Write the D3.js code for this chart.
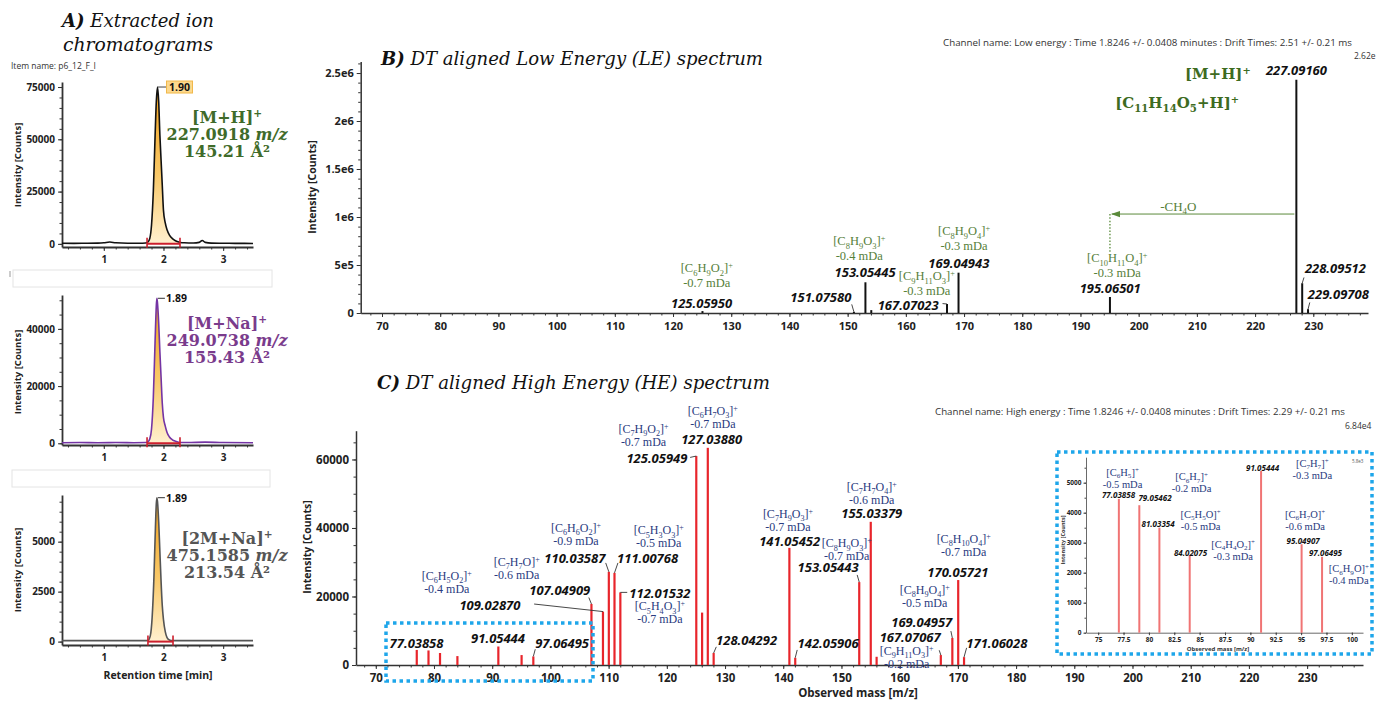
<!DOCTYPE html>
<html><head><meta charset="utf-8">
<script src="https://cdn.jsdelivr.net/npm/d3@7"></script>
<style>body{margin:0;background:#fff;}svg{display:block;}</style>
</head><body>
<svg id="c" width="1376" height="701"></svg>
<script>
// ================= DATA =================
// Panel A: extracted ion chromatograms (retention time [min], intensity [counts])
const rtMH  = [0.30,0.50,0.70,0.90,1.00,1.10,1.20,1.40,1.60,1.70,1.74,1.77,1.80,1.83,1.86,1.88,1.90,1.92,1.94,1.96,1.98,2.00,2.03,2.06,2.10,2.15,2.20,2.27,2.35,2.50,2.60,2.65,2.70,2.80,3.00,3.20,3.50];
const intMH = [300,250,300,350,500,900,500,300,300,400,900,2500,9000,25000,52000,68000,75000,68000,52000,40000,28000,16000,10000,6700,4200,2500,1500,800,500,400,700,1600,700,350,300,250,200];
const rtNa  = [0.30,0.60,0.90,1.20,1.50,1.70,1.74,1.77,1.80,1.83,1.86,1.88,1.89,1.90,1.92,1.94,1.96,1.98,2.00,2.03,2.06,2.10,2.15,2.20,2.27,2.40,2.70,3.00,3.50];
const intNa = [200,250,200,250,200,250,500,1500,5000,16000,36000,48000,50700,49000,42000,32000,23000,14000,9000,6000,3800,2200,1200,700,300,250,400,250,200];
const rt2M  = [0.30,0.70,1.10,1.50,1.70,1.74,1.78,1.81,1.84,1.86,1.88,1.89,1.90,1.92,1.94,1.96,1.98,2.00,2.03,2.06,2.10,2.15,2.30,2.70,3.10,3.50];
const int2M = [50,50,50,50,50,60,300,1200,3200,5200,6900,7200,7000,6000,4500,3000,1800,1100,500,200,80,50,50,50,50,50];
const rtTicks = [1,2,3];
const mhYTicks = [0,25000,50000,75000];
const naYTicks = [0,20000,40000];
const m2YTicks = [0,2500,5000];

// Panel B: low energy spectrum
const leMz  = [125.05950,151.07580,153.05445,154.06,167.07023,169.04943,195.06501,227.09160,228.09512,229.09708];
const leInt = [20000,12000,320000,30000,94000,420000,167000,2430000,310000,40000];
const leYTicks = [0,5e5,1e6,1.5e6,2e6,2.5e6];
const leYTickLabels = ['0','5e5','1e6','1.5e6','2e6','2.5e6'];
const mzTicks = [70,80,90,100,110,120,130,140,150,160,170,180,190,200,210,220,230];

// Panel C: high energy spectrum
const heMz  = [77.03858,79.05462,81.03354,84.02075,91.05444,95.04907,97.06495,107.04909,109.02870,110.03587,111.00768,112.01532,125.05949,126.06,127.03880,128.04292,141.05452,142.05906,153.05443,155.03379,156.04,167.07067,169.04957,170.05721,171.06028];
const heInt = [4400,4250,3500,2600,5400,2900,2500,17800,15600,27200,26900,21200,61000,15300,63400,3500,34200,2100,24200,41800,2400,2900,7900,24800,2300];
const heYTicks = [0,20000,40000,60000];

// Panel C inset (zoom 75–100 m/z)
const inMz  = [77.03858,79.05462,81.03354,84.02075,91.05444,95.04907,97.06495];
const inInt = [4460,4250,3500,2590,5390,2950,2530];
const inXTicks = [75,77.5,80,82.5,85,87.5,90,92.5,95,97.5,100];
const inYTicks = [0,1000,2000,3000,4000,5000];

// ----- annotation texts (label, position in data units) -----
const leNumLabels = [["125.05950",124.9,104000],["151.07580",145.4,167000],["153.05445",153.0,427000],["167.07023",160.4,83000],["169.04943",169.1,521000],["195.06501",195.1,260000],["228.09512",233.8,469000],["229.09708",234.3,198000],["227.09160",227.1,2530000]];
const leFormulas = [["[C_{6}H_{9}O_{2}]^{+}","-0.7 mDa",125.8,455000],["[C_{8}H_{9}O_{3}]^{+}","-0.4 mDa",152.0,736000],["[C_{9}H_{11}O_{3}]^{+}","-0.3 mDa",163.6,372000],["[C_{8}H_{9}O_{4}]^{+}","-0.3 mDa",170.0,840000],["[C_{10}H_{11}O_{4}]^{+}","-0.3 mDa",196.3,559000]];
const leLeaders = [[150.7,90000,151.07580],[166.3,98000,167.07023],[228.4,370000,228.09512],[229.4,110000,229.09708]];

const heNumLabels = [["77.03858",77.0,6400],["91.05444",91.0,7900],["97.06495",102.0,6400],["107.04909",101.6,21900],["109.02870",89.6,17500],["110.03587",104.2,31200],["111.00768",116.7,31200],["112.01532",118.8,21000],["125.05949",118.3,60400],["127.03880",127.7,66000],["128.04292",133.7,7300],["141.05452",141.1,36200],["142.05906",147.7,6400],["153.05443",147.7,28600],["155.03379",155.2,44400],["167.07067",161.8,8000],["169.04957",163.8,12600],["170.05721",170.0,27200],["171.06028",176.7,6400]];
const heFormulas = [["[C_{6}H_{5}O_{2}]^{+}","-0.4 mDa",82.2,25600],["[C_{7}H_{7}O]^{+}","-0.6 mDa",94.2,29700],["[C_{6}H_{6}O_{2}]^{+}","-0.9 mDa",104.4,39600],["[C_{5}H_{3}O_{3}]^{+}","-0.5 mDa",118.6,39000],["[C_{5}H_{4}O_{3}]^{+}","-0.7 mDa",118.8,16800],["[C_{7}H_{9}O_{2}]^{+}","-0.7 mDa",116.0,68500],["[C_{6}H_{7}O_{3}]^{+}","-0.7 mDa",127.9,73800],["[C_{7}H_{9}O_{3}]^{+}","-0.7 mDa",140.8,43700],["[C_{8}H_{9}O_{3}]^{+}","-0.7 mDa",150.9,35200],["[C_{7}H_{7}O_{4}]^{+}","-0.6 mDa",155.2,51600],["[C_{8}H_{10}O_{4}]^{+}","-0.7 mDa",171.0,36400],["[C_{8}H_{9}O_{4}]^{+}","-0.5 mDa",164.3,21600],["[C_{9}H_{11}O_{3}]^{+}","-0.2 mDa",161.2,3700]];
const heLeaders = [[97.2,17800,109.02870],[106.6,19700,107.04909],[109.5,29800,110.03587],[111.6,29800,111.00768],[113.2,21200,112.01532],[124.0,60600,125.05949],[97.4,4600,97.06495],[128.5,5300,128.04292],[142.4,4400,142.05906],[152.7,26300,153.05443],[166.8,4300,167.07067],[168.8,9900,169.04957],[171.5,5000,171.06028]];

const inNumLabels = [["77.03858",77.0,4590],["79.05462",80.6,4490],["81.03354",80.9,3620],["84.02075",84.1,2660],["91.05444",91.2,5490],["95.04907",95.2,3060],["97.06495",97.4,2660]];
const inFormulas = [["[C_{6}H_{5}]^{+}","-0.5 mDa",77.4,5340],["[C_{6}H_{7}]^{+}","-0.2 mDa",84.2,5180],["[C_{5}H_{5}O]^{+}","-0.5 mDa",85.1,3940],["[C_{4}H_{4}O_{2}]^{+}","-0.3 mDa",88.3,2940],["[C_{7}H_{7}]^{+}","-0.3 mDa",96.1,5640],["[C_{6}H_{7}O]^{+}","-0.6 mDa",95.4,3940],["[C_{6}H_{9}O]^{+}","-0.4 mDa",99.7,2110]];

// ================= DRAWING =================
const SANS = "'Open Sans','Noto Sans',sans-serif";
const TIMES = "'Liberation Serif','Times New Roman',serif";
const GEO = "'DejaVu Serif',Georgia,serif";
const svg = d3.select('#c');
svg.append('rect').attr('width',1376).attr('height',701).attr('fill','#fff');
const defs = svg.append('defs');
const grad = defs.append('linearGradient').attr('id','gradA').attr('x1',0).attr('y1',0).attr('x2',0).attr('y2',1);
grad.append('stop').attr('offset','0%').attr('stop-color','#f3a21c');
grad.append('stop').attr('offset','55%').attr('stop-color','#f9c867');
grad.append('stop').attr('offset','100%').attr('stop-color','#fff0cf');
defs.append('marker').attr('id','arrG').attr('viewBox','0 0 10 10').attr('refX',9).attr('refY',5)
  .attr('markerWidth',9).attr('markerHeight',9).attr('markerUnits','userSpaceOnUse').attr('orient','auto')
  .append('path').attr('d','M0,1.5 L10,5 L0,8.5 Z').attr('fill','#5a8a3a');

function rich(sel, str, fs) {
  const re = /(_|\^|\*)\{([^}]*)\}/g;
  let m, last = 0, cur = 0; const segs = [];
  while ((m = re.exec(str))) {
    if (m.index > last) segs.push({t: str.slice(last, m.index), k: ''});
    segs.push({t: m[2], k: m[1]}); last = re.lastIndex;
  }
  if (last < str.length) segs.push({t: str.slice(last), k: ''});
  segs.forEach(s => {
    let off = 0, size = fs;
    if (s.k === '_') { off = 0.26*fs; size = 0.68*fs; }
    if (s.k === '^') { off = -0.36*fs; size = 0.66*fs; }
    const ts = sel.append('tspan').text(s.t).attr('font-size', size).attr('dy', off - cur);
    if (s.k === '*') ts.attr('font-style','italic');
    cur = off;
  });
  return sel;
}
function styleAxis(g, fs, col, sw) {
  g.select('.domain').attr('stroke', col).attr('stroke-width', sw);
  g.selectAll('.tick line').attr('stroke', col).attr('stroke-width', 1);
  g.selectAll('.tick text').attr('font-family', SANS).attr('font-weight', 700).attr('font-size', fs).attr('fill', '#222');
}
function axesXY(x, y, o) {
  const y0 = y.range()[0], x0 = x.range()[0];
  const gxm = svg.append('g').attr('transform', `translate(0,${y0})`)
    .call(d3.axisBottom(x).tickValues(o.xMinor).tickSize(o.minLen).tickSizeOuter(0).tickFormat(''));
  gxm.select('.domain').remove(); gxm.selectAll('line').attr('stroke', o.col);
  const gym = svg.append('g').attr('transform', `translate(${x0},0)`)
    .call(d3.axisLeft(y).tickValues(o.yMinor).tickSize(o.minLen).tickSizeOuter(0).tickFormat(''));
  gym.select('.domain').remove(); gym.selectAll('line').attr('stroke', o.col);
  const gx = svg.append('g').attr('transform', `translate(0,${y0})`)
    .call(d3.axisBottom(x).tickValues(o.xTicks).tickSize(o.majLen).tickSizeOuter(0).tickPadding(o.padX).tickFormat(o.xFmt));
  styleAxis(gx, o.fs, o.col, o.sw);
  const gy = svg.append('g').attr('transform', `translate(${x0},0)`)
    .call(d3.axisLeft(y).tickValues(o.yTicks).tickSize(o.majLen).tickSizeOuter(0).tickPadding(o.padY).tickFormat(o.yFmt));
  styleAxis(gy, o.fs, o.col, o.sw);
}
function range(a, b, s) { const r = []; for (let v = a; v <= b + 1e-9; v += s) r.push(+v.toFixed(6)); return r; }
function yTitle(x, y, txt, fs) {
  svg.append('text').attr('transform', `translate(${x},${y}) rotate(-90)`).attr('text-anchor','middle')
    .attr('font-family', SANS).attr('font-weight', 700).attr('font-size', fs).attr('fill','#222').text(txt);
}

// ---------- Panel A ----------
const tA1 = svg.append('text').attr('x',138).attr('y',27).attr('text-anchor','middle')
  .attr('font-family',GEO).attr('font-style','italic').attr('font-size',18).attr('fill','#111')
  .attr('textLength',152).attr('lengthAdjust','spacingAndGlyphs');
tA1.append('tspan').attr('font-weight',700).text('A)'); tA1.append('tspan').text(' Extracted ion');
svg.append('text').attr('x',138).attr('y',51).attr('text-anchor','middle')
  .attr('font-family',GEO).attr('font-style','italic').attr('font-size',18).attr('fill','#111')
  .attr('textLength',150).attr('lengthAdjust','spacingAndGlyphs').text('chromatograms');
svg.append('text').attr('x',11).attr('y',69).attr('font-family',SANS).attr('font-size',8.5).attr('fill','#333').text('Item name: p6_12_F_I');
svg.append('rect').attr('x',13).attr('y',270).attr('width',259).attr('height',17).attr('fill','none').attr('stroke','#e4e4e4');
svg.append('rect').attr('x',12).attr('y',470).attr('width',258).attr('height',17).attr('fill','none').attr('stroke','#e4e4e4');
svg.append('line').attr('x1',10).attr('x2',10).attr('y1',271).attr('y2',277).attr('stroke','#999');

const xA = d3.scaleLinear([0.3, 3.5], [62, 253]);
const chroms = [
  {rt: rtMH, iv: intMH, yDom: [-1500, 77400], yRange: [247, 82], yTicks: mhYTicks, yMinor: range(0,75000,5000), col: '#111', integ: [1.725, 2.277], peak: [1.90, 75000], label: '1.90', box: true,
   txt: ['[M+H]^{+}', '227.0918 *{m/z}', '145.21 Å²'], tcol: '#3f6b2a', ty: 117, ytY: 165},
  {rt: rtNa, iv: intNa, yDom: [-600, 51850], yRange: [445, 295], yTicks: naYTicks, yMinor: range(0,50000,5000), col: '#7434a4', integ: [1.725, 2.277], peak: [1.89, 50700], label: '1.89', box: false,
   txt: ['[M+Na]^{+}', '249.0738 *{m/z}', '155.43 Å²'], tcol: '#7a3b8c', ty: 323, ytY: 372},
  {rt: rt2M, iv: int2M, yDom: [-170, 7335], yRange: [645, 495], yTicks: m2YTicks, yMinor: range(0,7000,500), col: '#555', integ: [1.74, 2.16], peak: [1.89, 7200], label: '1.89', box: false,
   txt: ['[2M+Na]^{+}', '475.1585 *{m/z}', '213.54 Å²'], tcol: '#555', ty: 538, ytY: 570}
];
chroms.forEach(o => {
  const y = d3.scaleLinear(o.yDom, o.yRange);
  const pts = o.rt.map((t, i) => [t, o.iv[i]]);
  const fpts = pts.filter(p => p[0] >= o.integ[0] - 0.02 && p[0] <= o.integ[1] + 0.001);
  svg.append('path').datum(fpts).attr('d', d3.area().x(d => xA(d[0])).y0(y(0)).y1(d => y(d[1])).curve(d3.curveMonotoneX)).attr('fill','url(#gradA)');
  axesXY(xA, y, {xTicks: rtTicks, xMinor: range(0.4, 3.4, 0.2), yTicks: o.yTicks, yMinor: o.yMinor, xFmt: d3.format('d'), yFmt: d3.format('d'),
    fs: 10, col: '#333', sw: 1.8, majLen: 4, minLen: 2.5, padX: 5, padY: 3});
  svg.append('path').datum(pts).attr('d', d3.line().x(d => xA(d[0])).y(d => y(d[1])).curve(d3.curveMonotoneX))
    .attr('fill','none').attr('stroke', o.col).attr('stroke-width', 1.6);
  const yb = y(0), xa = xA(o.integ[0]), xb = xA(o.integ[1]);
  const gi = svg.append('g').attr('stroke','#cc1f2d').attr('stroke-width',2);
  gi.append('line').attr('x1',xa).attr('x2',xb).attr('y1',yb).attr('y2',yb);
  gi.append('line').attr('x1',xa).attr('x2',xa).attr('y1',yb-6).attr('y2',yb+4).attr('stroke-width',1.6);
  gi.append('line').attr('x1',xb).attr('x2',xb).attr('y1',yb-6).attr('y2',yb+4).attr('stroke-width',1.6);
  const px = xA(o.peak[0]), py = y(o.peak[1]);
  if (o.box) {
    svg.append('line').attr('x1',px).attr('x2',px+9).attr('y1',py).attr('y2',py).attr('stroke','#444');
    svg.append('rect').attr('x',px+9).attr('y',py-6).attr('width',26).attr('height',12).attr('fill','#fcd88d').attr('stroke','#f1b84a');
    svg.append('text').attr('x',px+22).attr('y',py+4).attr('text-anchor','middle').attr('font-family',SANS).attr('font-weight',700).attr('font-size',10.5).attr('fill','#111').text(o.label);
  } else {
    svg.append('line').attr('x1',px+1).attr('x2',px+8).attr('y1',py).attr('y2',py).attr('stroke','#333');
    svg.append('text').attr('x',px+9).attr('y',py+4).attr('font-family',SANS).attr('font-weight',700).attr('font-size',10.5).attr('fill','#111').text(o.label);
  }
  o.txt.forEach((s, i) => {
    const t = svg.append('text').attr('x',227).attr('y',o.ty + 6 + i*17).attr('text-anchor','middle')
      .attr('font-family',GEO).attr('font-weight',700).attr('font-size',16).attr('fill',o.tcol);
    rich(t, s, 16);
  });
  yTitle(21, o.ytY, 'Intensity [Counts]', 9.5);
});
svg.append('text').attr('x',158).attr('y',679).attr('text-anchor','middle').attr('font-family',SANS).attr('font-weight',700).attr('font-size',10.5).attr('fill','#222').text('Retention time [min]');

// ---------- Panel B ----------
const xB = d3.scaleLinear([66.34, 239.4], [360.7, 1368]);
const yB = d3.scaleLinear([0, 2.62e6], [313, 61.5]);
const tB = svg.append('text').attr('x',381).attr('y',65).attr('font-family',GEO).attr('font-style','italic').attr('font-size',19).attr('fill','#111')
  .attr('textLength',382).attr('lengthAdjust','spacingAndGlyphs');
tB.append('tspan').attr('font-weight',700).text('B)'); tB.append('tspan').text(' DT aligned Low Energy (LE) spectrum');
svg.append('text').attr('x',943).attr('y',46).attr('font-family',SANS).attr('font-size',9.5).attr('fill','#333')
  .attr('textLength',409).attr('lengthAdjust','spacingAndGlyphs')
  .text('Channel name: Low energy : Time 1.8246 +/- 0.0408 minutes : Drift Times: 2.51 +/- 0.21 ms');
svg.append('text').attr('x',1354).attr('y',59).attr('font-family',SANS).attr('font-size',8.5).attr('fill','#333').text('2.62e');
axesXY(xB, yB, {xTicks: mzTicks, xMinor: range(68, 238, 2), yTicks: leYTicks, yMinor: range(0, 2.6e6, 1e5),
  xFmt: d3.format('d'), yFmt: (d, i) => leYTickLabels[i], fs: 11, col: '#333', sw: 1.5, majLen: 4, minLen: 2.5, padX: 5, padY: 3});
yTitle(316, 187, 'Intensity [Counts]', 10.5);
svg.append('g').selectAll('line').data(leMz).join('line')
  .attr('x1', d => xB(d)).attr('x2', d => xB(d)).attr('y1', yB(0)).attr('y2', (d, i) => yB(leInt[i]))
  .attr('stroke', '#111').attr('stroke-width', 2);
leLeaders.forEach(([m, v, pk]) => {
  const i = leMz.indexOf(pk);
  svg.append('line').attr('x1', xB(m)).attr('y1', yB(v)).attr('x2', xB(pk)).attr('y2', yB(leInt[i])).attr('stroke','#333').attr('stroke-width',0.9);
});
leNumLabels.forEach(([s, m, v]) => {
  svg.append('text').attr('x', xB(m)).attr('y', yB(v) + 4.7).attr('text-anchor','middle').attr('font-family',SANS)
    .attr('font-weight',700).attr('font-style','italic').attr('font-size',13).attr('fill','#111').text(s);
});
leFormulas.forEach(([f, d, m, v]) => {
  const t = svg.append('text').attr('x', xB(m)).attr('y', yB(v) + 3).attr('text-anchor','middle').attr('font-family',TIMES).attr('font-size',12.5).attr('fill','#56803a');
  rich(t, f, 12.5);
  svg.append('text').attr('x', xB(m)).attr('y', yB(v) + 17.5).attr('text-anchor','middle').attr('font-family',TIMES).attr('font-size',12.5).attr('fill','#56803a').text(d);
});
rich(svg.append('text').attr('x', xB(213.6)).attr('y', yB(2.5e6) + 6).attr('text-anchor','middle').attr('font-family',GEO).attr('font-weight',700).attr('font-size',15).attr('fill','#3d6b21'), '[M+H]^{+}', 15);
rich(svg.append('text').attr('x', xB(206.6)).attr('y', yB(2.198e6) + 6).attr('text-anchor','middle').attr('font-family',GEO).attr('font-weight',700).attr('font-size',15).attr('fill','#3d6b21'), '[C_{11}H_{14}O_{5}+H]^{+}', 15);
rich(svg.append('text').attr('x', xB(206.8)).attr('y', yB(1.104e6) + 4).attr('text-anchor','middle').attr('font-family',TIMES).attr('font-size',13).attr('fill','#56803a'), '-CH_{4}O', 13);
svg.append('line').attr('x1', xB(226.75)).attr('x2', xB(195.4)).attr('y1', yB(1.031e6)).attr('y2', yB(1.031e6))
  .attr('stroke','#5a8a3a').attr('stroke-width',1).attr('marker-end','url(#arrG)');
svg.append('line').attr('x1', xB(195.06501)).attr('x2', xB(195.06501)).attr('y1', yB(1.031e6)).attr('y2', yB(6.35e5))
  .attr('stroke','#5a8a3a').attr('stroke-width',1.3).attr('stroke-dasharray','1.5,1.8');

// ---------- Panel C ----------
const xC = d3.scaleLinear([66.6, 239.6], [356, 1363]);
const yC = d3.scaleLinear([0, 68400], [665, 430.7]);
const tC = svg.append('text').attr('x',377).attr('y',389).attr('font-family',GEO).attr('font-style','italic').attr('font-size',19).attr('fill','#111')
  .attr('textLength',393).attr('lengthAdjust','spacingAndGlyphs');
tC.append('tspan').attr('font-weight',700).text('C)'); tC.append('tspan').text(' DT aligned High Energy (HE) spectrum');
svg.append('text').attr('x',935).attr('y',415).attr('font-family',SANS).attr('font-size',9.5).attr('fill','#333')
  .attr('textLength',410).attr('lengthAdjust','spacingAndGlyphs')
  .text('Channel name: High energy : Time 1.8246 +/- 0.0408 minutes : Drift Times: 2.29 +/- 0.21 ms');
svg.append('text').attr('x',1345).attr('y',429).attr('font-family',SANS).attr('font-size',8.5).attr('fill','#333').text('6.84e4');
axesXY(xC, yC, {xTicks: mzTicks, xMinor: range(68, 238, 2), yTicks: heYTicks, yMinor: range(0, 65000, 5000),
  xFmt: d3.format('d'), yFmt: d3.format('d'), fs: 11.5, col: '#333', sw: 1.5, majLen: 4, minLen: 2.5, padX: 5, padY: 3});
yTitle(311, 547, 'Intensity [Counts]', 10.5);
svg.append('text').attr('x',858).attr('y',697).attr('text-anchor','middle').attr('font-family',SANS).attr('font-weight',700).attr('font-size',11.5).attr('fill','#222').text('Observed mass [m/z]');
svg.append('g').selectAll('line').data(heMz).join('line')
  .attr('x1', d => xC(d)).attr('x2', d => xC(d)).attr('y1', yC(0)).attr('y2', (d, i) => yC(heInt[i]))
  .attr('stroke', '#e8252b').attr('stroke-width', 2.2);
heLeaders.forEach(([m, v, pk]) => {
  const i = heMz.indexOf(pk);
  svg.append('line').attr('x1', xC(m)).attr('y1', yC(v)).attr('x2', xC(pk)).attr('y2', yC(heInt[i])).attr('stroke','#333').attr('stroke-width',0.9);
});
heNumLabels.forEach(([s, m, v]) => {
  svg.append('text').attr('x', xC(m)).attr('y', yC(v) + 4.7).attr('text-anchor','middle').attr('font-family',SANS)
    .attr('font-weight',700).attr('font-style','italic').attr('font-size',13).attr('fill','#111').text(s);
});
heFormulas.forEach(([f, d, m, v]) => {
  const t = svg.append('text').attr('x', xC(m)).attr('y', yC(v) + 3).attr('text-anchor','middle').attr('font-family',TIMES).attr('font-size',12).attr('fill','#2a3b80');
  rich(t, f, 12);
  svg.append('text').attr('x', xC(m)).attr('y', yC(v) + 16).attr('text-anchor','middle').attr('font-family',TIMES).attr('font-size',12).attr('fill','#2a3b80').text(d);
});
svg.append('rect').attr('x',386).attr('y',623).attr('width',207).attr('height',58).attr('fill','none')
  .attr('stroke','#1ea6ea').attr('stroke-width',3.5).attr('stroke-dasharray','3.5,3.5');
svg.append('rect').attr('x',1057).attr('y',452).attr('width',315).attr('height',202).attr('fill','#fff')
  .attr('stroke','#1ea6ea').attr('stroke-width',3.5).attr('stroke-dasharray','3.5,3.5');

// ---------- Inset ----------
const xI = d3.scaleLinear([73.8, 101.1], [1086, 1363]);
const yI = d3.scaleLinear([0, 5850], [632.7, 457.2]);
axesXY(xI, yI, {xTicks: inXTicks, xMinor: inXTicks, yTicks: inYTicks, yMinor: range(0, 5500, 500),
  xFmt: d3.format('~g'), yFmt: d3.format('d'), fs: 6.5, col: '#444', sw: 0.8, majLen: 2.5, minLen: 1.5, padX: 2, padY: 2});
svg.append('text').attr('transform','translate(1065,540) rotate(-90)').attr('text-anchor','middle').attr('font-family',SANS).attr('font-weight',700).attr('font-size',5.5).attr('fill','#333').text('Intensity [Counts]');
svg.append('text').attr('x',1218).attr('y',651).attr('text-anchor','middle').attr('font-family',SANS).attr('font-weight',700).attr('font-size',6).attr('fill','#333').text('Observed mass [m/z]');
svg.append('text').attr('x',1352).attr('y',463).attr('font-family',SANS).attr('font-size',4.5).attr('fill','#555').text('5.8e3');
svg.append('g').selectAll('line').data(inMz).join('line')
  .attr('x1', d => xI(d)).attr('x2', d => xI(d)).attr('y1', yI(0)).attr('y2', (d, i) => yI(inInt[i]))
  .attr('stroke', '#f07474').attr('stroke-width', 2);
inNumLabels.forEach(([s, m, v]) => {
  svg.append('text').attr('x', xI(m)).attr('y', yI(v) + 3).attr('text-anchor','middle').attr('font-family',SANS)
    .attr('font-weight',700).attr('font-style','italic').attr('font-size',8).attr('fill','#111').text(s);
});
inFormulas.forEach(([f, d, m, v]) => {
  const t = svg.append('text').attr('x', xI(m)).attr('y', yI(v) + 3).attr('text-anchor','middle').attr('font-family',TIMES).attr('font-size',10.5).attr('fill','#2a3b80');
  rich(t, f, 10.5);
  svg.append('text').attr('x', xI(m)).attr('y', yI(v) + 15).attr('text-anchor','middle').attr('font-family',TIMES).attr('font-size',10.5).attr('fill','#2a3b80').text(d);
});
</script>
</body></html>
